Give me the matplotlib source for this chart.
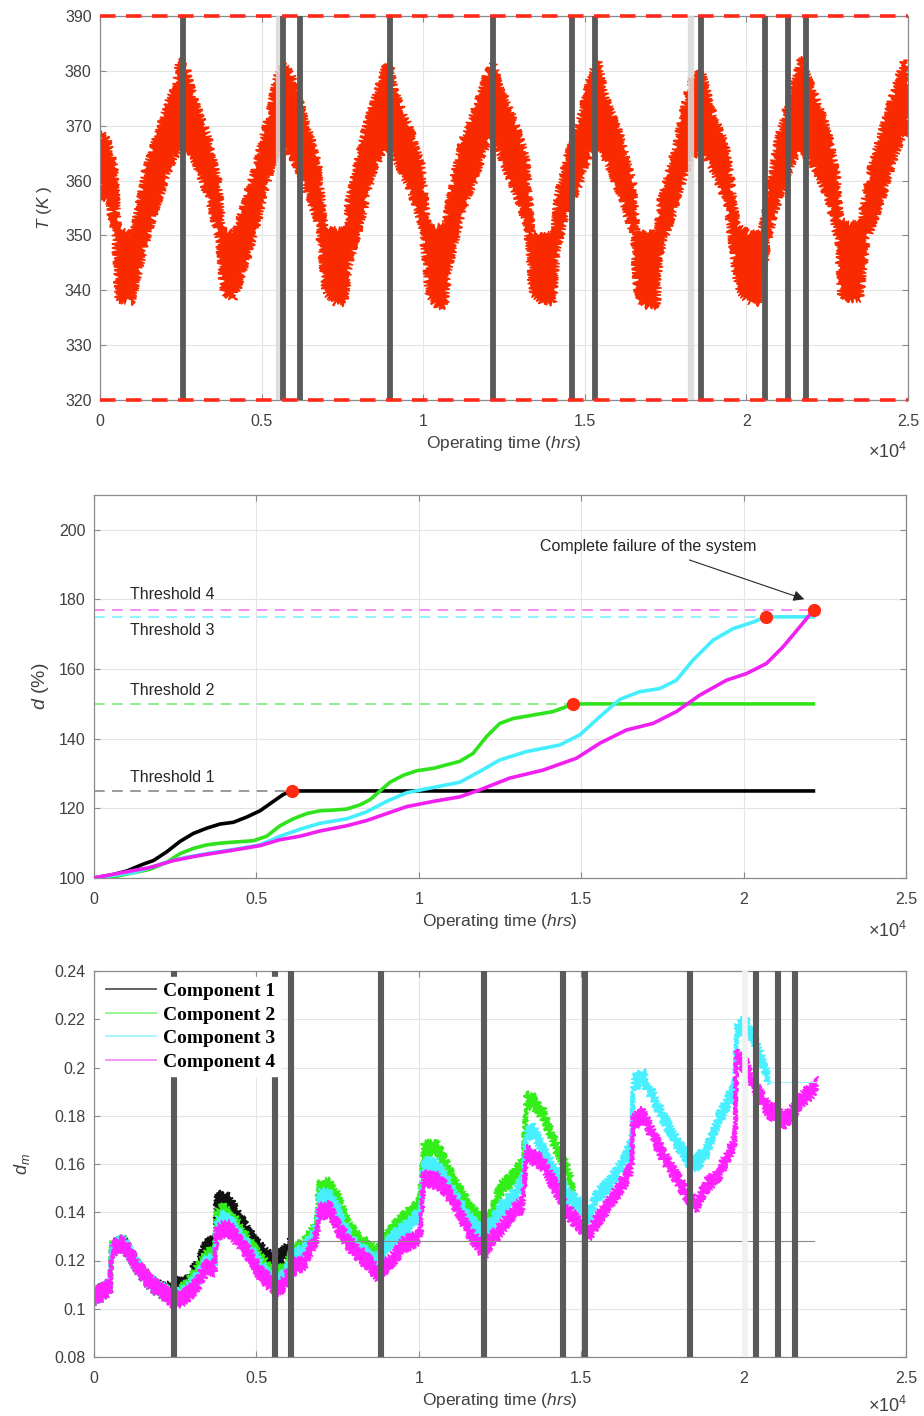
import numpy as np
import matplotlib
matplotlib.use("Agg")
import matplotlib.pyplot as plt
from matplotlib.ticker import FuncFormatter, MultipleLocator

plt.rcParams['font.family'] = ['Liberation Sans', 'DejaVu Sans']
plt.rcParams['mathtext.fontset'] = 'custom'
plt.rcParams['mathtext.rm'] = 'Liberation Sans'
plt.rcParams['mathtext.it'] = 'Liberation Sans:italic'

# ---------------- panel 1: temperature band (upper / lower envelope) -------------
temp_t = [0, 258, 464, 560, 1000, 1393, 1700, 2115, 2322, 2446,
          2570, 2683, 2941, 3354, 3663, 3818, 4150, 4489, 4799, 5211, 5469,
          5700, 5934, 6347, 6760, 6966, 7300, 7600, 7688, 8101, 8514, 8823,
          9000, 9133, 9546, 9959, 10165, 10450, 10681, 10784, 11197, 11610, 12023,
          12170, 12435, 12797, 13210, 13364, 13700, 14035, 14138, 14448, 14861, 15170,
          15428, 15686, 16099, 16512, 16615, 16950, 17234, 17338, 17750, 18060, 18266,
          18627, 18989, 19402, 19711, 20100, 20434, 20640, 20950, 21466,
          21672, 22085, 22498, 22808, 22911, 23200, 23530, 23736, 24149, 24562, 24872, 25000]
temp_hi = [369, 367.4, 362.5, 351.6, 350, 361.9, 367.4, 374.7, 377.1, 382.3,
           381, 380.7, 374.7, 368, 360.1, 351, 350.4, 356.5, 362.5, 372.2, 379.5,
           381, 379.5, 371.6, 363.1, 351.6, 351, 351, 356.5, 367.4, 375.9, 380.7,
           381, 376.5, 370.4, 363.1, 351.6, 351.6, 352, 356.5, 367.4, 373.5, 380.7,
           381.5, 376.5, 371.6, 364.4, 350.4, 350.4, 350.4, 357.1, 364.4, 371.6, 379.5,
           382, 374.7, 368.6, 359.5, 350.4, 350.4, 350.4, 356.5, 365, 373.5, 378.3,
           380.1, 372.2, 366.2, 352, 350.4, 350.4, 356.5, 367.4, 377.7,
           382.6, 376.5, 369.8, 361.3, 352.8, 352.2, 352.2, 360.1, 368.6, 376.5, 382, 380]
temp_lo = [357, 356.5, 349.2, 338.2, 337.8, 348, 354, 361.3, 364.4, 365.6,
           366, 366.2, 363.1, 356.5, 349.2, 339.5, 338.3, 344.3, 350.4, 360.1, 365,
           366, 364.4, 358.9, 351.6, 339.5, 337.6, 337.6, 343.7, 352.8, 362.5, 365.6,
           366, 363.7, 358.9, 351.6, 338.9, 337, 337, 343.1, 354, 360.1, 367.4,
           367.5, 363.7, 358.3, 351.6, 339.5, 337.6, 337.6, 346.8, 354, 359.5, 365,
           366.2, 363.1, 357.1, 349.2, 338.3, 337, 337, 346.8, 354, 360.1, 363.7,
           365.6, 361.3, 355.3, 340, 337.6, 337.6, 348, 355.3, 363.7,
           365.6, 362.5, 357.1, 349.2, 338.9, 338.3, 338.3, 349.2, 355.3, 363.7, 368.6, 368]
temp_limits = [320, 390]

maint_top = [2570, 5670, 6190, 8980, 12170, 14610, 15330, 18580, 20590, 21300, 21830]
light_top = [5540, 18300]
maint_bot = [2460, 5570, 6060, 8830, 12000, 14430, 15110, 18340, 20370, 21050, 21570]
light_bot = [20030]

# ---------------- panel 2: degradation d (%) -------------
c1_t = [0, 596, 1006, 1520, 1827, 2238, 2648, 3059, 3469, 3880, 4290, 4700, 5111,
        5521, 5829, 6106, 22150]
c1_d = [100, 101, 102, 104, 105, 107.5, 110.5, 112.8, 114.3, 115.5, 116, 117.5, 119.3,
        122, 124, 125, 125]
c2_t = [0, 699, 1212, 1725, 2238, 2648, 3059, 3469, 3880, 4290, 4906, 5316, 5726, 6136,
        6547, 6957, 7368, 7778, 8189, 8497, 8805, 9112, 9523, 9933, 10446, 11262, 11672,
        12083, 12493, 12904, 13519, 14135, 14545, 14750, 22150]
c2_d = [100, 100.5, 101.5, 102.5, 104.5, 107, 108.5, 109.5, 110, 110.3, 110.7, 112, 115, 117,
        118.5, 119.3, 119.5, 119.8, 121, 122.5, 125, 127.5, 129.5, 130.8, 131.5, 133.5, 135.8,
        140.6, 144.4, 145.8, 146.8, 147.8, 149.2, 150, 150]
c3_t = [0, 1212, 2238, 2854, 3674, 4495, 5111, 5726, 6342, 6957, 7778, 8394, 9010, 9626,
        10446, 11262, 11878, 12493, 13314, 14340, 14956, 15571, 16187, 16802, 17418, 17931,
        18444, 19060, 19675, 20291, 20681, 22150]
c3_d = [100, 101.5, 104.5, 106, 107.3, 108.5, 109.5, 112, 114, 115.7, 117, 119, 122, 124.5,
        126, 127.5, 130.6, 133.9, 136.3, 138.2, 141.1, 146.3, 151.3, 153.5, 154.4, 156.8,
        162.6, 168.3, 171.6, 173.5, 175, 175]
c4_t = [0, 1006, 1725, 2443, 3264, 4290, 5111, 5726, 6342, 6957, 7778, 8394, 9010, 9626,
        10446, 11262, 11878, 12801, 13827, 14853, 15571, 16392, 17213, 17931, 18649, 19470,
        20086, 20702, 21215, 21728, 22158]
c4_d = [100, 101.8, 103, 105, 106.5, 108, 109.3, 111, 112, 113.5, 115, 116.5, 118.5, 120.5,
        122, 123.3, 125.3, 128.7, 131, 134.4, 138.7, 142.5, 144.4, 147.8, 152.5, 156.8,
        158.7, 161.6, 166.4, 172.1, 177]
thresholds = [125, 150, 175, 177]
threshold_names = ['Threshold 1', 'Threshold 2', 'Threshold 3', 'Threshold 4']
fail_t = [6106, 14750, 20681, 22158]
fail_d = [125, 150, 175, 177]

# ---------------- panel 3: d_m per component (band centre) -------------
early_t = [0, 287, 493, 544, 698, 903, 1108, 1313, 1518, 1724, 1929, 2134]
early_d = [0.105, 0.1072, 0.109, 0.1244, 0.1259, 0.127, 0.123, 0.1176, 0.1142, 0.1107, 0.1087, 0.107]

m1_t = early_t + [2339, 2545, 2852, 3160, 3468, 3724, 3760, 3827, 3981, 4186, 4494, 4801,
                  5109, 5417, 5622, 5930, 6033]
m1_d = early_d + [0.1082, 0.1097, 0.1104, 0.1168, 0.1265, 0.126, 0.143, 0.1451, 0.145, 0.1441,
                  0.137, 0.130, 0.1246, 0.1203, 0.1196, 0.124, 0.126]
mid_t = [2339, 2545, 2852, 3160, 3468, 3724, 3760, 3981, 4186, 4494, 4801, 5109, 5417, 5827,
         6135, 6443, 6854, 6920, 7059, 7264, 7572, 7880, 8188, 8495, 8700, 8906, 9111, 9521,
         9932, 10050, 10137, 10547, 10855, 11163, 11573, 11881, 12189, 12492, 12902, 13200,
         13313, 13518, 13826, 14134, 14339, 14544, 14749]
m2_t = early_t + mid_t
m2_d = early_d + [0.106, 0.1055, 0.1085, 0.1151, 0.1215, 0.122, 0.138, 0.1404, 0.139, 0.1329,
                  0.1265, 0.1203, 0.1155, 0.1144, 0.1230, 0.1258, 0.1340, 0.150, 0.1506, 0.1506,
                  0.1437, 0.1327, 0.1279, 0.1251, 0.1223, 0.127, 0.1313, 0.1368, 0.1417, 0.1445,
                  0.1658, 0.1672, 0.1589, 0.1506, 0.1410, 0.1368, 0.137, 0.1491, 0.1547, 0.160,
                  0.1865, 0.1858, 0.1810, 0.1699, 0.1644, 0.1582, 0.1500]
m3_t = early_t + mid_t + [15057, 15262, 15467, 15878, 16288, 16493, 16560, 16596, 16904, 17212,
                          17520, 17827, 18135, 18340, 18545, 18853, 19264, 19674, 19740, 19777,
                          20085, 20290, 20597, 20751]
m3_d = early_d + [0.105, 0.1045, 0.107, 0.112, 0.119, 0.119, 0.135, 0.137, 0.136, 0.130, 0.124,
                  0.118, 0.1125, 0.112, 0.1205, 0.1235, 0.1325, 0.146, 0.1465, 0.146, 0.139,
                  0.129, 0.124, 0.1215, 0.1185, 0.124, 0.128, 0.1325, 0.1375, 0.140, 0.1589,
                  0.159, 0.1534, 0.1451, 0.1365, 0.1320, 0.134, 0.1409, 0.1464, 0.152, 0.1727,
                  0.1741, 0.1658, 0.1575, 0.1540, 0.1472, 0.1451,
                  0.1409, 0.1389, 0.1464, 0.1520, 0.1603, 0.1665, 0.170, 0.1934, 0.1962, 0.1879,
                  0.1796, 0.1713, 0.1651, 0.1603, 0.1603, 0.1651, 0.1796, 0.1900, 0.196, 0.2155,
                  0.2182, 0.2128, 0.2017, 0.196]
m4_t = early_t + [2339, 2545, 2852, 3160, 3468, 3724, 3760, 3981, 4186, 4494, 4801, 5109, 5417,
                  5622, 5827, 6135, 6443, 6854, 6920, 7059, 7264, 7572, 7880, 8188, 8495, 8700,
                  8906, 9111, 9521, 9932, 10050, 10137, 10547, 10855, 11163, 11573, 11881,
                  12035, 12189, 12492, 12902, 13200, 13313, 13518, 13826, 14134, 14339, 14544,
                  14749, 15057, 15262, 15467, 15878, 16288, 16493, 16560, 16596, 16904, 17212,
                  17520, 17827, 18135, 18340, 18545, 18853, 19264, 19674, 19740, 19777, 20085,
                  20290, 20597, 20802, 21008, 21213, 21521, 21829, 22136, 22239]
m4_d = early_d + [0.1045, 0.1035, 0.1052, 0.1098, 0.1175, 0.117, 0.131, 0.1330, 0.1330, 0.1271,
                  0.1222, 0.1147, 0.1107, 0.1085, 0.1103, 0.1174, 0.1189, 0.1299, 0.140, 0.1407,
                  0.141, 0.1320, 0.1265, 0.1223, 0.1189, 0.1147, 0.117, 0.1189, 0.1265, 0.1292,
                  0.131, 0.1540, 0.1534, 0.1492, 0.1424, 0.1313, 0.1258, 0.1230, 0.128, 0.1326,
                  0.1402, 0.143, 0.1644, 0.1630, 0.1603, 0.1520, 0.1472, 0.1410, 0.1375, 0.1340,
                  0.1313, 0.1361, 0.1437, 0.1520, 0.1568, 0.160, 0.1775, 0.1803, 0.1720, 0.1637,
                  0.1568, 0.1499, 0.1451, 0.1430, 0.1506, 0.1568, 0.1679, 0.171, 0.2045, 0.2002,
                  0.1934, 0.1865, 0.1817, 0.1817, 0.1776, 0.1817, 0.1872, 0.1907, 0.1934]
band_half = 0.003
held1 = (6237, 22180, 0.128)
held3 = (20751, 22250, 0.194)

# ---------------- styling helpers -------------
GRAY_TXT = '#404040'
BAR = '#5a5a5a'

def style_axes(ax):
    for s in ax.spines.values():
        s.set_color('#8a8a8a')
        s.set_linewidth(0.9)
    ax.tick_params(direction='in', length=4, width=0.8, color='#8a8a8a',
                   top=True, right=True, labelsize=11.5, labelcolor=GRAY_TXT, pad=6)
    ax.tick_params(axis='x', pad=10)
    ax.grid(True, color='#e4e4e4', lw=0.8)
    ax.set_axisbelow(True)
    ax.set_xlim(0, 25000)
    ax.xaxis.set_major_locator(MultipleLocator(5000))
    ax.xaxis.set_major_formatter(FuncFormatter(lambda v, p: f'{v / 1e4:g}'))
    ax.set_xlabel('Operating time ($hrs$)', fontsize=12.5, color=GRAY_TXT, labelpad=4)

def noisy_band(ax, t, lo, hi, color, scale, length):
    # closed polygon between the read envelopes; sketch gives the jagged edge
    xs = list(t) + list(t)[::-1]
    ys = list(lo) + list(hi)[::-1]
    patch, = ax.fill(xs, ys, facecolor=color, edgecolor=color, lw=1.0, zorder=2)
    patch.set_sketch_params(scale=scale, length=length, randomness=3)
    return patch

fig = plt.figure(figsize=(9.24, 14.16), dpi=100)
H = 1416.0
W = 924.0

def axes_px(l, t, r, b):
    return fig.add_axes([l / W, 1 - b / H, (r - l) / W, (b - t) / H])

def offset_label(ypx):
    fig.text(907 / W, 1 - ypx / H, r'$\times10^{4}$', ha='right', va='center',
             fontsize=13, color=GRAY_TXT)

# ---- panel 1 ----
ax1 = axes_px(100, 16, 908, 400)
style_axes(ax1)
noisy_band(ax1, temp_t, temp_lo, temp_hi, '#fa2a00', 3.5, 2.0)
ax1.vlines(light_top, 320, 390, color='#d9d9d9', lw=4.5, alpha=0.85, zorder=3)
ax1.vlines(maint_top, 320, 390, color=BAR, lw=4.2, zorder=4)
for lim in temp_limits:
    ax1.plot([0, 25000], [lim, lim], color='#ff2a1a', lw=2.6, dashes=(4.3, 2.9),
             zorder=5, clip_on=False)
ax1.set_ylim(320, 390)
ax1.yaxis.set_major_locator(MultipleLocator(10))
ax1.set_ylabel('$T$ ($K$ )', fontsize=12.5, color=GRAY_TXT, labelpad=8)
offset_label(452)

# ---- panel 2 ----
ax2 = axes_px(94, 495, 906, 878)
style_axes(ax2)
th_colors = ['#9a9a9a', '#8cee8c', '#8ff3ff', '#f58af5']
for th, col in zip(thresholds, th_colors):
    ax2.plot([0, 22150], [th, th], color=col, lw=1.4, dashes=(5.5, 3.8), zorder=2)
curves = [(c1_t, c1_d, 'black'), (c2_t, c2_d, '#2fe31c'),
          (c3_t, c3_d, '#45eefc'), (c4_t, c4_d, '#f020f0')]
for tt, dd, col in curves:
    ax2.plot(tt, dd, color=col, lw=2.6, zorder=3, solid_joinstyle='round')
ax2.plot(fail_t, fail_d, 'o', color='#ff2a10', ms=8.5, zorder=4)
label_y = [128.9, 153.9, 171.0, 181.4]
for name, yy in zip(threshold_names, label_y):
    ax2.text(1100, yy, name, fontsize=11.5, color='#262626', va='center')
ax2.text(17050, 195.2, 'Complete failure of the system', fontsize=11.5, color='#262626',
         ha='center', va='center')
ax2.annotate('', xy=(21950, 179.8), xytext=(18250, 191.6),
             arrowprops=dict(arrowstyle='-|>', color='#262626', lw=0.8, mutation_scale=16))
ax2.set_ylim(100, 210)
ax2.set_yticks(np.arange(100, 201, 20))
ax2.set_ylabel('$d$ (%)', fontsize=14, color=GRAY_TXT, labelpad=6)
offset_label(931)

# ---- panel 3 ----
ax3 = axes_px(94, 971, 906, 1357)
style_axes(ax3)
bands = [(m1_t, m1_d, '#111111'), (m2_t, m2_d, '#33ee18'),
         (m3_t, m3_d, '#48f0ff'), (m4_t, m4_d, '#ff22ff')]
for tt, dd, col in bands:
    dd = np.array(dd)
    noisy_band(ax3, tt, dd - band_half, dd + band_half, col, 2.5, 1.5)
ax3.plot([held1[0], held1[1]], [held1[2], held1[2]], color='#8a8a8a', lw=0.8, zorder=2)
ax3.plot([held3[0], held3[1]], [held3[2], held3[2]], color='#9ff6ff', lw=0.8, zorder=2)
ax3.vlines(light_bot, 0.08, 0.24, color='#f0f0f0', lw=4, zorder=3)
ax3.vlines(maint_bot, 0.08, 0.24, color=BAR, lw=4.4, zorder=4)
ax3.set_ylim(0.08, 0.24)
ax3.yaxis.set_major_locator(MultipleLocator(0.02))
ax3.yaxis.set_major_formatter(FuncFormatter(lambda v, p: f'{v:g}'))
ax3.set_ylabel('$d_{m}$', fontsize=13, color=GRAY_TXT, labelpad=16)
handles = [plt.Line2D([], [], color=c, lw=1.3) for c in
           ['#555555', '#8ef58e', '#a0f5ff', '#f58cf5']]
leg = ax3.legend(handles, ['Component 1', 'Component 2', 'Component 3', 'Component 4'],
                 loc='upper left', bbox_to_anchor=(0.0, 1.0), frameon=True, fancybox=False,
                 handlelength=2.6, handletextpad=0.35, labelspacing=0.3, borderpad=0.3,
                 borderaxespad=0.3,
                 prop={'family': 'Liberation Serif', 'weight': 'bold', 'size': 14})
leg.get_frame().set_facecolor('white')
leg.get_frame().set_edgecolor('white')
leg.get_frame().set_alpha(1)
leg.set_zorder(10)
offset_label(1406)

fig.savefig('out.png', dpi=100)
